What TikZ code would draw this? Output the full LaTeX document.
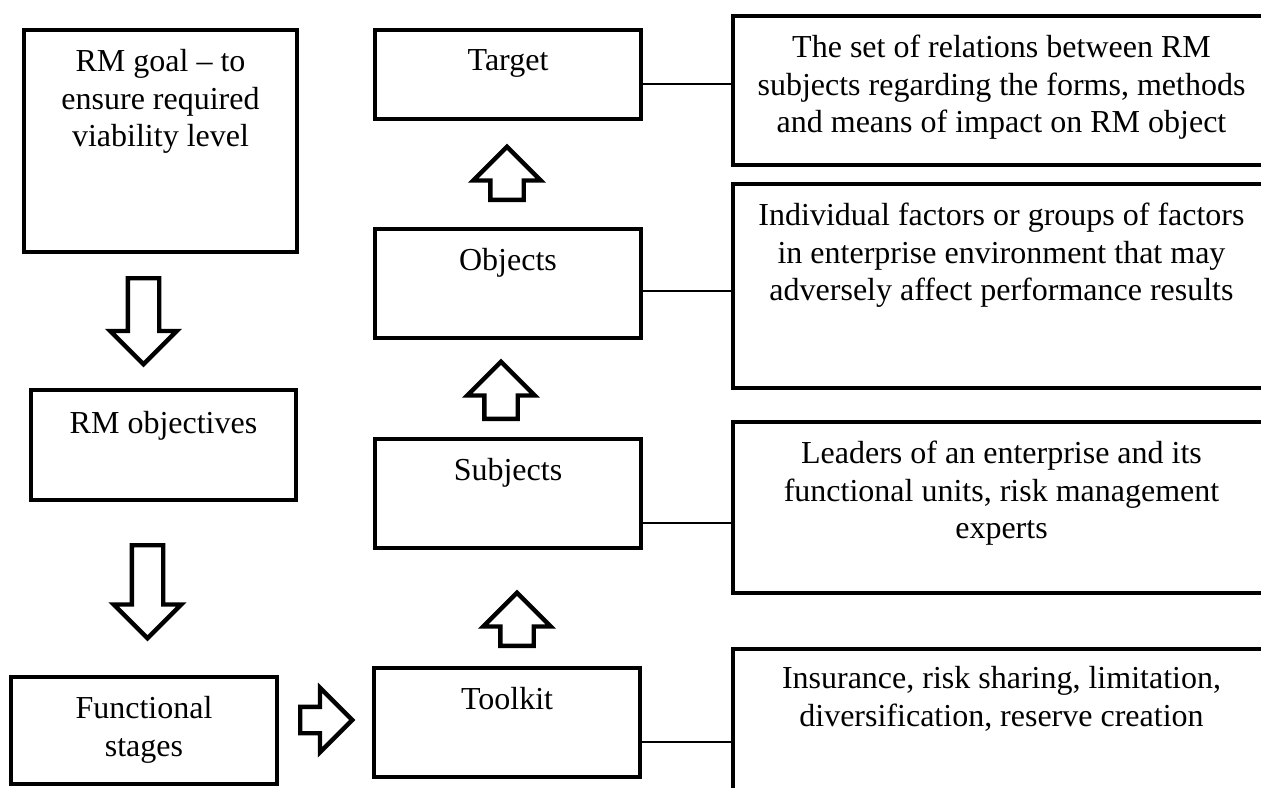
\documentclass[tikz,border=0pt]{standalone}
\usepackage{fontspec}
\setmainfont{Liberation Serif}
\usetikzlibrary{shapes.arrows,calc,positioning}

\begin{document}
\begin{tikzpicture} [x=0.5pt,y=-0.5pt]
    \tikzset {
      every node/.style={font=\fontsize{16}{18.8}\selectfont},
      box/.style={rectangle,draw,line width=2.2pt,inner sep=0pt},
      txt/.style={anchor=north,yshift=-10.5pt,align=center,inner sep=0pt},
      link/.style={line width=0.6pt},
      blockarrow/.style={single arrow,draw,line width=2.2pt,single arrow tip angle=90,anchor=tail,
        single arrow head indent=0pt,inner xsep=0pt,inner ysep=6.75pt,single arrow head extend=8.75pt}
    }
    \useasboundingbox (0,0) rectangle (1261,787);
    \clip (0,0) rectangle (1261,787);

    % left column
    \node [box, minimum width=136.5pt, minimum height=111pt,
      label={[txt]north:RM goal -- to\\ensure required\\viability level}] (goal) at (160.5,141) {};
    \node [box, minimum width=132.5pt, minimum height=55pt,
      label={[txt,yshift=-1pt]north:RM objectives}] (objectives) at (163.5,445) {};
    \node [box, minimum width=133pt, minimum height=53.5pt,
      label={[txt]north:Functional\\stages}] (stages) at (144,730.5) {};

    % middle column
    \node [box, minimum width=133pt, minimum height=44.5pt, label={[txt]north:Target}] (target) at (508,74.5) {};
    \node [box, minimum width=133pt, minimum height=54.5pt, label={[txt]north:Objects}] (objects) at (508,283.5) {};
    \node [box, minimum width=133pt, minimum height=54.5pt, label={[txt]north:Subjects}] (subjects) at (508,493.5) {};
    \node [box, minimum width=133pt, minimum height=54.5pt, label={[txt]north:Toolkit}] (toolkit) at (507,722.5) {};

    % right column
    \node [box, minimum width=268.5pt, minimum height=74.5pt,
      label={[txt]north:The set of relations between RM\\subjects regarding the forms, methods\\and means of impact on RM object}] (rel1) at (1001.5,90.5) {};
    \node [box, minimum width=268.5pt, minimum height=102pt,
      label={[txt]north:Individual factors or groups of factors\\in enterprise environment that may\\adversely affect performance results}] (rel2) at (1001.5,286) {};
    \node [box, minimum width=268.5pt, minimum height=85.5pt,
      label={[txt]north:Leaders of an enterprise and its\\functional units, risk management\\experts}] (rel3) at (1001.5,507.5) {};
    \node [box, minimum width=268.5pt, minimum height=110pt,
      label={[txt,yshift=1pt]north:Insurance, risk sharing, limitation,\\diversification, reserve creation}] (rel4) at (1001.5,759) {};

    % block arrows
    \node [blockarrow, rotate=-90, minimum height=43pt] (down1) at (143.5,276) {};
    \node [blockarrow, rotate=-90, minimum height=46.5pt, single arrow head extend=9pt] (down2) at (147.5,543) {};
    \node [blockarrow, rotate=90, minimum height=26.5pt, inner ysep=7.25pt, single arrow head extend=8.5pt] (up1) at (507,202) {};
    \node [blockarrow, rotate=90, minimum height=28.5pt, inner ysep=7.25pt, single arrow head extend=8.5pt] (up2) at (501,421) {};
    \node [blockarrow, rotate=90, minimum height=26.5pt, inner ysep=7.25pt, single arrow head extend=8.5pt] (up3) at (517,648) {};
    \node [blockarrow, minimum height=26pt, inner ysep=5.5pt, single arrow head extend=9.5pt] (right1) at (298,720) {};

    % links
    \draw [link] ([yshift=-4.75pt]target.east) -- ([yshift=-4.75pt]target.east -| rel1.west);
    \draw [link] ([yshift=-3.75pt]objects.east) -- ([yshift=-3.75pt]objects.east -| rel2.west);
    \draw [link] ([yshift=-14.75pt]subjects.east) -- ([yshift=-14.75pt]subjects.east -| rel3.west);
    \draw [link] ([yshift=-9.75pt]toolkit.east) -- ([yshift=-9.75pt]toolkit.east -| rel4.west);
  \end{tikzpicture}
\end{document}
